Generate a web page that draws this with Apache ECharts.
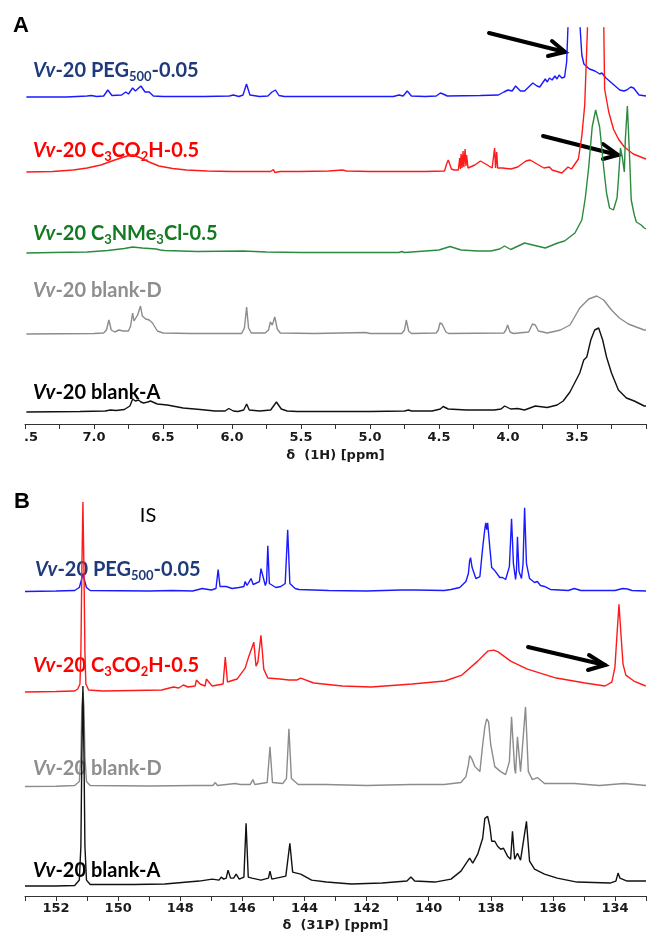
<!DOCTYPE html>
<html>
<head>
<meta charset="utf-8">
<script src="https://cdn.jsdelivr.net/npm/echarts@6/dist/echarts.min.js"></script>
<style>
html, body { margin: 0; padding: 0; background: #fff; }
#chart { width: 649px; height: 933px; }
</style>
</head>
<body>
<div id="chart"></div>
<script>
// 1H spectra, [ppm, intensity above own baseline]
var specA_PEG = [[7.49,0],[7.20,0],[7.05,1],[7.02,1.5],[6.98,0.5],[6.93,1],[6.90,7],[6.87,1.5],[6.80,2],[6.77,5],[6.75,3],[6.72,9],[6.70,6],[6.66,11],[6.63,5],[6.60,5],[6.57,1],[6.50,0.5],[6.20,0.5],[6.02,1],[5.99,2],[5.95,0.5],[5.92,2],[5.895,13],[5.87,2],[5.80,0.5],[5.74,1],[5.71,5],[5.70,3],[5.685,7],[5.66,1.5],[5.62,0.5],[5.20,0.5],[4.83,0.5],[4.79,2],[4.76,1],[4.73,6],[4.70,1],[4.60,0.5],[4.52,1],[4.49,4],[4.48,2],[4.47,3],[4.44,1],[4.20,1.5],[4.07,2],[4.03,5],[4.00,7],[3.97,6],[3.945,11],[3.91,6],[3.88,6],[3.85,10],[3.82,14],[3.79,11],[3.77,10],[3.73,18],[3.715,15],[3.70,19],[3.68,17],[3.66,21],[3.645,18],[3.63,22],[3.61,19],[3.59,20],[3.575,35],[3.56,90],[3.545,200],[3.50,200],[3.48,75],[3.465,42],[3.45,33],[3.41,28],[3.37,26],[3.335,23],[3.32,24],[3.29,19],[3.24,13],[3.19,7],[3.16,6],[3.14,7],[3.11,10],[3.09,9],[3.05,2],[3.00,1]];
var specA_CO2H = [[7.49,0],[7.30,0.5],[7.15,2],[7.05,4],[6.95,7],[6.85,12],[6.76,16],[6.72,17],[6.66,14],[6.60,10],[6.53,6],[6.43,3.5],[6.33,2],[6.18,1],[6.00,0.5],[5.72,0.5],[5.70,2.5],[5.69,-0.5],[5.65,0.5],[5.51,0.5],[5.30,1],[5.20,2],[5.17,1],[5.00,0.5],[4.60,0.5],[4.46,1],[4.445,8],[4.433,12],[4.425,9],[4.41,3],[4.39,2],[4.36,2],[4.35,14],[4.345,3],[4.34,18],[4.333,4],[4.326,21],[4.32,5],[4.311,23],[4.305,6],[4.30,17],[4.29,4],[4.276,5],[4.24,7],[4.20,11],[4.15,7],[4.115,4],[4.105,4],[4.097,24],[4.09,4],[4.082,20],[4.075,4],[4.04,4],[3.98,3],[3.93,5],[3.87,11],[3.84,12],[3.79,8],[3.74,4],[3.70,5],[3.68,2],[3.61,-1],[3.565,5],[3.54,3],[3.49,13],[3.465,36],[3.444,67],[3.42,160],[3.40,300],[3.32,300],[3.30,83],[3.27,60],[3.236,43],[3.20,33],[3.157,25],[3.092,18],[3.02,14],[3.00,13]];
var specA_NMe3 = [[7.49,0],[7.30,0.5],[7.05,1],[6.90,2.5],[6.78,4.5],[6.72,6],[6.65,5],[6.55,4],[6.52,3],[6.49,2.5],[6.25,1.5],[5.92,2],[5.75,1],[5.50,0.5],[5.00,0.5],[4.79,0.5],[4.77,1.5],[4.75,0.5],[4.50,3],[4.42,6.5],[4.34,3],[4.22,2],[4.125,2],[4.06,4],[4.025,7],[3.98,3.5],[3.88,10],[3.79,7],[3.73,5],[3.64,10],[3.59,12],[3.515,20],[3.465,33],[3.44,55],[3.415,86],[3.39,126],[3.365,143],[3.336,126],[3.307,86],[3.286,60],[3.264,45],[3.236,43],[3.21,55],[3.20,73],[3.185,105],[3.171,95],[3.157,81],[3.15,113],[3.135,147],[3.121,103],[3.107,53],[3.085,38],[3.07,31],[3.035,28],[3.013,25],[3.00,24]];
var specA_blankD = [[7.49,0],[7.00,0.5],[6.93,1],[6.91,4],[6.892,14],[6.875,4],[6.85,2],[6.82,4],[6.79,3],[6.75,3],[6.735,8],[6.72,21],[6.71,13],[6.698,11],[6.684,19],[6.675,17],[6.663,28],[6.65,18],[6.641,16],[6.625,15],[6.612,16],[6.60,14],[6.576,11],[6.541,3],[6.50,1],[6.30,0.5],[5.93,0.5],[5.91,6],[5.894,27],[5.88,6],[5.86,1],[5.76,1],[5.735,4],[5.722,12],[5.708,9],[5.69,17],[5.672,5],[5.65,1],[5.40,0.5],[5.03,1.5],[5.00,0.5],[4.77,0.5],[4.75,4],[4.737,14],[4.72,3],[4.70,0.5],[4.52,1],[4.505,4],[4.493,11],[4.478,10],[4.464,11],[4.45,2],[4.43,0.5],[4.03,1],[4.015,4],[4.003,9],[3.985,2],[3.96,0.5],[3.85,2],[3.823,10],[3.802,9],[3.78,3],[3.716,1],[3.65,3],[3.62,4],[3.551,9],[3.48,26],[3.415,35],[3.357,38],[3.307,34],[3.25,24],[3.193,16],[3.128,10],[3.071,7],[3.013,4],[3.00,4]];
var specA_blankA = [[7.49,0],[7.10,0.5],[6.92,1],[6.88,2],[6.84,1.5],[6.78,2.5],[6.74,6],[6.72,13],[6.70,11],[6.677,12],[6.66,10],[6.641,9],[6.61,10],[6.591,11],[6.541,8],[6.469,7],[6.354,4],[6.231,2.5],[6.124,1],[6.05,1],[6.023,3.5],[5.99,1],[5.958,0.5],[5.915,2],[5.894,8],[5.875,2],[5.80,1],[5.72,2],[5.678,10],[5.643,3],[5.60,1],[5.528,0.5],[5.00,0.5],[4.75,1],[4.721,2],[4.70,1],[4.55,1],[4.49,3],[4.47,5.5],[4.433,3],[4.30,2],[4.218,2],[4.10,2],[4.05,3],[4.024,6],[3.981,3],[3.931,3.5],[3.880,2],[3.802,6],[3.716,4.5],[3.644,7],[3.600,11],[3.551,20],[3.480,39],[3.451,52],[3.429,55],[3.400,72],[3.372,82],[3.343,84],[3.314,72],[3.286,55],[3.250,39],[3.200,22],[3.142,14],[3.085,11],[3.013,6],[3.00,6]];

// 31P spectra
var specB_PEG = [[153,0],[152,0.5],[151.4,1],[151.25,4],[151.18,12],[151.135,18],[151.09,12],[151.02,4],[150.9,1],[149,0.5],[148.25,1],[147.6,0.5],[147.29,3],[147.0,1.5],[146.85,3],[146.78,22],[146.72,5],[146.52,5],[146.33,3],[146.11,4],[145.95,5],[145.91,10],[145.85,6],[145.72,13],[145.65,7],[145.45,10],[145.40,23],[145.34,21],[145.26,6],[145.22,10],[145.18,46],[145.13,8],[144.92,4],[144.76,5],[144.62,8],[144.54,62],[144.47,8],[144.3,3],[144.18,2],[143.22,1],[142,0.5],[140.89,1.5],[140.44,1.5],[139.5,1],[139.28,2],[139.0,4],[138.8,10],[138.72,18],[138.68,31],[138.65,34],[138.6,24],[138.48,13],[138.35,15],[138.26,44],[138.19,63],[138.16,69],[138.13,62],[138.10,69],[138.03,44],[137.97,24],[137.87,21],[137.71,14],[137.62,14],[137.52,12],[137.40,25],[137.33,73],[137.27,28],[137.20,12],[137.17,22],[137.14,55],[137.09,20],[137.01,13],[136.96,28],[136.91,84],[136.85,28],[136.75,13],[136.59,9],[136.50,10],[136.40,6],[136.27,5],[136.08,2],[135.5,1],[135.31,3],[135.1,1],[134.0,1],[133.75,3],[133.71,2],[133.6,2.5],[133.45,1],[133,0.5]];
var specB_CO2H = [[153,0],[152,0.5],[151.4,1],[151.3,3],[151.23,8],[151.2,40],[151.17,120],[151.135,191],[151.1,120],[151.07,40],[151.04,8],[150.95,2],[150.5,1],[149.5,1.5],[148.6,2],[148.22,5],[148.05,4],[147.90,7],[147.75,5],[147.52,6],[147.48,12],[147.36,8],[147.2,6],[147.16,13],[146.97,6],[146.62,8],[146.55,35],[146.48,10],[146.43,11],[146.17,13],[145.91,24],[145.79,36],[145.63,50],[145.56,26],[145.50,30],[145.40,57],[145.31,23],[145.18,14],[144.79,13],[144.5,12],[144.44,14],[144.25,12],[144.12,14],[143.70,9],[142.78,6],[141.85,5],[140.53,8],[139.48,11],[138.93,17],[138.42,31],[138.10,41],[137.9,42],[137.75,40],[137.36,31],[136.82,23],[135.89,14],[134.96,9],[134.32,6],[134.1,10],[134.0,25],[133.94,55],[133.87,88],[133.80,55],[133.74,28],[133.65,17],[133.39,11],[133.01,6],[133,6]];
var specB_blankD = [[153,0],[152,0.3],[151.4,1],[151.25,5],[151.2,30],[151.17,80],[151.135,95],[151.1,80],[151.07,30],[151.02,5],[150.9,1],[149,0.5],[147.5,1],[146.95,1],[146.87,4],[146.8,1],[146.52,2],[146.23,3],[146.07,2],[145.75,2],[145.66,7],[145.6,2],[145.2,4],[145.11,40],[145.03,4],[144.7,3],[144.58,8],[144.50,58],[144.42,8],[144.2,2],[143.32,2],[142,1],[140.57,2],[139.5,2],[138.96,4],[138.8,10],[138.72,22],[138.68,31],[138.61,28],[138.51,20],[138.35,15],[138.26,42],[138.19,60],[138.13,68],[138.07,65],[138.00,42],[137.87,20],[137.68,15],[137.52,12],[137.40,25],[137.33,70],[137.23,18],[137.20,13],[137.14,50],[137.04,15],[136.98,15],[136.88,80],[136.79,15],[136.66,7],[136.5,9],[136.27,3],[135.31,3],[134.5,1],[133.71,3],[133.0,1]];
var specB_blankA = [[153,0],[152,0],[151.4,0.5],[151.25,6],[151.2,40],[151.17,130],[151.135,201],[151.1,130],[151.07,40],[151.02,6],[150.9,1.5],[149.5,1.5],[148.5,2],[147.39,5],[146.97,7],[146.75,6],[146.68,9],[146.6,7],[146.52,8],[146.46,16],[146.38,8],[146.28,8],[146.20,12],[146.1,7],[145.95,9],[145.88,63],[145.81,9],[145.69,8],[145.40,6],[145.16,8],[145.11,15],[145.05,7],[144.60,10],[144.47,43],[144.38,14],[144.12,12],[143.77,6],[143.29,4],[142.49,2],[141.5,3],[140.7,5],[140.57,9],[140.45,5],[139.80,4],[139.28,7],[138.96,15],[138.68,28],[138.58,23],[138.42,32],[138.26,48],[138.19,68],[138.10,70],[138.03,60],[137.97,45],[137.87,45],[137.78,40],[137.68,37],[137.59,38],[137.46,30],[137.36,27],[137.30,55],[137.23,27],[137.14,33],[137.04,26],[136.98,27],[136.85,65],[136.75,25],[136.59,17],[136.27,12],[135.86,8],[135.22,4],[134.16,3],[133.97,5],[133.90,13],[133.84,8],[133.61,5],[133.0,5]];

// vertical stacking offsets
var offsetA = [327, 252, 171, 90, 12];
var offsetB = [306, 205, 110, 10];

var colorsA = ['#1a1aff', '#ff1a1a', '#2a8a3e', '#8c8c8c', '#111111'];
var colorsB = ['#1a1aff', '#ff1a1a', '#8c8c8c', '#111111'];

var myChart = echarts.init(document.getElementById('chart'), null, { renderer: 'canvas' });

function shift(spec, off) {
	return spec.map(function (p) { return [p[0], p[1] + off]; });
}

function lineSeries(spec, off, color, idx) {
	return {
		type: 'line',
		xAxisIndex: idx,
		yAxisIndex: idx,
		data: shift(spec, off),
		showSymbol: false,
		symbol: 'none',
		clip: true,
		silent: true,
		lineStyle: { color: color, width: 1.4 },
		z: 2
	};
}

var tickFont = { fontFamily: 'DejaVu Sans', fontWeight: 'bold', fontSize: 13, color: '#1a1a1a' };

var labelFont = 'Lato';
function rich(color) {
	return {
		i: { fontFamily: labelFont, fontWeight: 'bold', fontStyle: 'italic', fontSize: 20, lineHeight: 24, fill: color },
		b: { fontFamily: labelFont, fontWeight: 'bold', fontSize: 20, lineHeight: 24, fill: color },
		s: { fontFamily: labelFont, fontWeight: 'bold', fontSize: 13, lineHeight: 13, verticalAlign: 'bottom', fill: color }
	};
}
function label(x, y, text, color) {
	return {
		type: 'text', x: x, y: y, z: 0,
		style: { text: text, rich: rich(color), fill: color, verticalAlign: 'middle', align: 'left' }
	};
}
function arrow(x1, y1, x2, y2, w1, w2) {
	return {
		type: 'group', z: 50,
		children: [
			{ type: 'polyline', shape: { points: [[x1, y1], [x2, y2]] }, style: { stroke: '#000', lineWidth: 4, fill: null, lineCap: 'round' } },
			{ type: 'polyline', shape: { points: [w1, [x2, y2], w2] }, style: { stroke: '#000', lineWidth: 4, fill: null, lineCap: 'round', lineJoin: 'miter' } }
		]
	};
}

option = {
	animation: false,
	backgroundColor: '#fff',
	grid: [
		{ left: 25, right: 0, top: 28, height: 396 },
		{ left: 25, right: 0, top: 480, height: 418 }
	],
	xAxis: [{
			type: 'value', gridIndex: 0, inverse: true,
			min: 3.0, max: 7.5, interval: 0.25,
			axisLine: { lineStyle: { color: '#333', width: 1 } },
			axisTick: { length: 5, lineStyle: { color: '#333' } },
			splitLine: { show: false },
			axisLabel: Object.assign({
				margin: 7,
				rich: { e: { fontFamily: 'DejaVu Sans', fontWeight: 'bold', fontSize: 13, color: '#1a1a1a', padding: [0, 0, 0, 12] } },
				formatter: function (v) {
					var k = Math.round(v * 100);
					if (k === 750) return '{e|.5}';
					if (k === 300) return '';
					return k % 50 === 0 ? v.toFixed(1) : '';
				}
			}, tickFont),
			name: 'δ  (1H) [ppm]', nameLocation: 'middle', nameGap: 25,
			nameTextStyle: tickFont
		},
		{
			type: 'value', gridIndex: 1, inverse: true,
			min: 133, max: 153, interval: 1,
			axisLine: { lineStyle: { color: '#333', width: 1 } },
			axisTick: { length: 5, lineStyle: { color: '#333' } },
			splitLine: { show: false },
			axisLabel: Object.assign({
				margin: 6,
				formatter: function (v) { return v % 2 === 0 ? String(v) : ''; }
			}, tickFont),
			name: 'δ  (31P) [ppm]', nameLocation: 'middle', nameGap: 23,
			nameTextStyle: tickFont
		}
	],
	yAxis: [
		{ type: 'value', gridIndex: 0, min: 0, max: 396, show: false },
		{ type: 'value', gridIndex: 1, min: 0, max: 418, show: false }
	],
	series: [
		lineSeries(specA_PEG, offsetA[0], colorsA[0], 0),
		lineSeries(specA_CO2H, offsetA[1], colorsA[1], 0),
		lineSeries(specA_NMe3, offsetA[2], colorsA[2], 0),
		lineSeries(specA_blankD, offsetA[3], colorsA[3], 0),
		lineSeries(specA_blankA, offsetA[4], colorsA[4], 0),
		lineSeries(specB_PEG, offsetB[0], colorsB[0], 1),
		lineSeries(specB_CO2H, offsetB[1], colorsB[1], 1),
		lineSeries(specB_blankD, offsetB[2], colorsB[2], 1),
		lineSeries(specB_blankA, offsetB[3], colorsB[3], 1)
	],
	graphic: [
		{ type: 'text', x: 13, y: 26, style: { text: 'A', font: 'bold 22px "Liberation Sans"', fill: '#000', verticalAlign: 'middle' } },
		{ type: 'text', x: 14, y: 502, style: { text: 'B', font: 'bold 22px "Liberation Sans"', fill: '#000', verticalAlign: 'middle' } },
		{ type: 'text', x: 148, y: 516, style: { text: 'IS', font: '20px Lato', fill: '#000', verticalAlign: 'middle', align: 'center' } },

		label(33, 71, '{i|Vv}{b|-20 PEG}{s|500}{b|-0.05}', '#1f3a7a'),
		label(33, 151, '{i|Vv}{b|-20 C}{s|3}{b|CO}{s|2}{b|H-0.5}', '#ff0000'),
		label(33, 234, '{i|Vv}{b|-20 C}{s|3}{b|NMe}{s|3}{b|Cl-0.5}', '#137a22'),
		label(33, 291, '{i|Vv}{b|-20 blank-D}', '#8e8e8e'),
		label(33, 393, '{i|Vv}{b|-20 blank-A}', '#000000'),

		label(35, 570, '{i|Vv}{b|-20 PEG}{s|500}{b|-0.05}', '#1f3a7a'),
		label(33, 666, '{i|Vv}{b|-20 C}{s|3}{b|CO}{s|2}{b|H-0.5}', '#ff0000'),
		label(33, 769, '{i|Vv}{b|-20 blank-D}', '#8e8e8e'),
		label(33, 871, '{i|Vv}{b|-20 blank-A}', '#000000'),

		arrow(489, 33, 565, 52, [552, 41], [548, 56]),
		arrow(543, 136, 618, 155, [603, 144], [603, 159]),
		arrow(528, 647, 605, 665, [589, 655], [588, 670])
	]
};

myChart.setOption(option);
</script>
</body>
</html>
